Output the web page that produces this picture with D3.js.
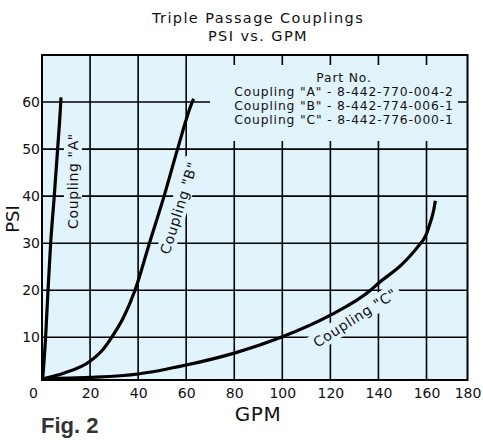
<!DOCTYPE html>
<html>
<head>
<meta charset="utf-8">
<script src="https://cdn.jsdelivr.net/npm/d3@7"></script>
<style>
  html, body { margin: 0; padding: 0; background: #fff; }
  svg { display: block; }
  text { fill: #111; }
</style>
</head>
<body>
<svg id="chart" width="483" height="440"></svg>
<script>
// ---- data ----
const xTickValues = [0, 20, 40, 60, 80, 100, 120, 140, 160, 180];
const yTickValues = [10, 20, 30, 40, 50, 60];
const titleLines = ["Triple Passage Couplings", "PSI vs. GPM"];
const legendLines = ["Part No.", "Coupling \"A\" - 8-442-770-004-2", "Coupling \"B\" - 8-442-774-006-1", "Coupling \"C\" - 8-442-776-000-1"];

const gpmA = [0.3, 1.5, 2.5, 3.6, 5.1, 6.5, 7.8, 7.9];
const psiA = [0.4, 10, 20, 30, 40, 50, 60, 61];
const gpmB = [0.3, 9, 20, 25, 29, 34, 38.7, 44.7, 50.8, 56.4, 62.5, 63.1];
const psiB = [0.3, 1.6, 4.4, 6.9, 10, 14.3, 20, 30, 40, 50, 60, 60.7];
const gpmC = [0.3, 20, 40, 60, 80, 100, 120, 136.7, 140, 150, 156, 160, 162, 163.5, 164.3];
const psiC = [0.3, 0.6, 1.4, 3.5, 6.3, 10.1, 14.7, 20, 21.5, 25.6, 29, 32, 34.6, 37, 39];
const curveNames = ["Coupling \"A\"", "Coupling \"B\"", "Coupling \"C\""];

// ---- layout ----
const FONT = "DejaVu Sans, sans-serif";
const svg = d3.select("#chart");
const bg = "#e1f3fb";
const x = d3.scaleLinear().domain([0, 160, 180]).range([42, 426.5, 467.5]);
const y = d3.scaleLinear().domain([0, 10, 70]).range([380, 337.3, 55]);
const [x0, x1] = [x(0), x(180)];
const [y0, y1] = [y(0), y(70)];

// plot background
svg.append("rect").attr("x", x0).attr("y", y1).attr("width", x1 - x0).attr("height", y0 - y1).attr("fill", bg);

// grid
const grid = svg.append("g").attr("stroke", "#000").attr("stroke-width", 1.6);
grid.selectAll("line.v").data(xTickValues.filter(v => v > 0 && v < 180)).join("line")
  .attr("x1", d => x(d)).attr("x2", d => x(d)).attr("y1", y0).attr("y2", y1);
grid.selectAll("line.h").data(yTickValues).join("line")
  .attr("x1", x0).attr("x2", x1).attr("y1", d => y(d)).attr("y2", d => y(d));

// legend box (covers grid)
const legend = svg.append("g");
legend.append("rect").attr("x", 210).attr("y", 65).attr("width", 248).attr("height", 76).attr("fill", bg);
legend.selectAll("text").data(legendLines).join("text")
  .attr("x", 344).attr("y", (d, i) => 82 + i * 14)
  .attr("text-anchor", "middle").style("font-family", FONT).style("font-size", "12.3px")
  .style("letter-spacing", "0.85px").text(d => d);

// curve labels: backgrounds first
const labelPos = [
  { cx: 73, cy: 181, angle: -90 },
  { cx: 179, cy: 208, angle: -72.6 },
  { cx: 355, cy: 318, angle: -32.6 }
];
const labelGroups = svg.selectAll("g.lbl").data(curveNames).join("g").attr("class", "lbl")
  .attr("transform", (d, i) => `translate(${labelPos[i].cx},${labelPos[i].cy}) rotate(${labelPos[i].angle})`);
const labelRects = labelGroups.append("rect").attr("fill", bg);

// curves
const line = d3.line().x(d => x(d[0])).y(d => y(d[1])).curve(d3.curveMonotoneX);
const series = [d3.zip(gpmA, psiA), d3.zip(gpmB, psiB), d3.zip(gpmC, psiC)];
svg.append("g").selectAll("path").data(series).join("path")
  .attr("d", line).attr("fill", "none").attr("stroke", "#000").attr("stroke-width", 3.2)
  .attr("stroke-linecap", "butt");

// label texts
const labelTexts = labelGroups.append("text").attr("text-anchor", "middle").attr("dy", "0.35em")
  .style("font-family", FONT).style("font-size", "14px").style("letter-spacing", "0.6px").text(d => d);
labelTexts.each(function (d, i) {
  const b = this.getBBox();
  d3.select(labelRects.nodes()[i]).attr("x", b.x - 4).attr("y", b.y - 1)
    .attr("width", b.width + 8).attr("height", b.height + 2);
});

// border
svg.append("rect").attr("x", x0).attr("y", y1).attr("width", x1 - x0).attr("height", y0 - y1)
  .attr("fill", "none").attr("stroke", "#000").attr("stroke-width", 2);

// axes tick labels
const xAxis = svg.append("g").attr("transform", `translate(0,${y0})`)
  .call(d3.axisBottom(x).tickValues(xTickValues).tickSize(0).tickPadding(8).tickFormat(d3.format("d")));
xAxis.select(".domain").remove();
xAxis.selectAll("text").style("font-size", "14px").style("font-family", FONT).attr("fill", "#111")
  .attr("dx", d => d === 0 ? -9 : 0);
const yAxis = svg.append("g").attr("transform", `translate(${x0},0)`)
  .call(d3.axisLeft(y).tickValues(yTickValues).tickSize(0).tickPadding(2).tickFormat(d3.format("d")));
yAxis.select(".domain").remove();
yAxis.selectAll("text").style("font-size", "14px").style("font-family", FONT).attr("fill", "#111");

// titles
svg.selectAll("text.title").data(titleLines).join("text").attr("class", "title")
  .attr("x", 258).attr("y", (d, i) => 23 + i * 17.5).attr("text-anchor", "middle")
  .style("font-family", FONT).style("font-size", "14.5px").style("letter-spacing", "1.4px").text(d => d);
svg.append("text").attr("x", 258).attr("y", 421).attr("text-anchor", "middle")
  .style("font-family", FONT).style("font-size", "20px").style("letter-spacing", "0.5px").text("GPM");
svg.append("text").attr("transform", "translate(19,219) rotate(-90)").attr("text-anchor", "middle")
  .style("font-family", FONT).style("font-size", "18px").text("PSI");
svg.append("text").attr("x", 41).attr("y", 433)
  .style("font-family", "Liberation Sans, Arial, sans-serif")
  .style("font-weight", "bold").style("font-size", "22px").style("fill", "#333").text("Fig. 2");
</script>
</body>
</html>
